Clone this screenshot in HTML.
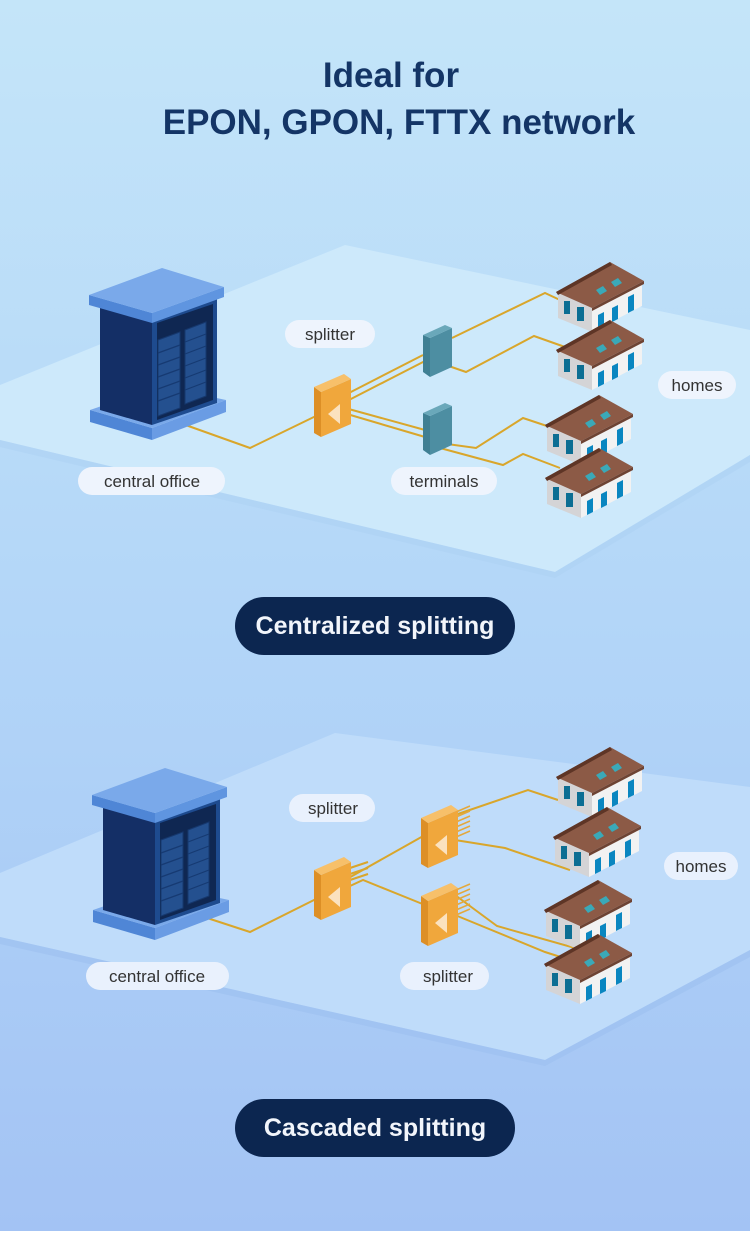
<!DOCTYPE html>
<html><head><meta charset="utf-8"><style>
html,body{margin:0;padding:0}
body{width:750px;height:1231px;overflow:hidden;font-family:"Liberation Sans",sans-serif}
</style></head><body>
<svg width="750" height="1231" viewBox="0 0 750 1231" xmlns="http://www.w3.org/2000/svg">
<defs>
<linearGradient id="bg" x1="0" y1="0" x2="0" y2="1">
<stop offset="0" stop-color="#c4e5f9"/><stop offset="0.5" stop-color="#b3d6f8"/><stop offset="1" stop-color="#a3c3f4"/>
</linearGradient>
<g id="house">
<polygon points="18,34 36,26 52,48 52,72 18,58" fill="#d4d4d6"/>
<polygon points="52,48 102,22 102,46 52,72" fill="#f2f2f2"/>
<polygon points="16,32 70,2 104,21 52,48" fill="#8c5a46"/>
<polygon points="16,32 70,2 72,5 18,35" fill="#5e3526"/>
<polygon points="52,48 104,21 104,24 52,51" fill="#6e4333"/>
<rect x="24" y="41" width="6" height="13" fill="#0c6e93"/>
<rect x="37" y="47" width="7" height="14" fill="#0c6e93"/>
<polygon points="58,55 64,52 64,66 58,69" fill="#0a86c0"/>
<polygon points="72,48 78,45 78,59 72,62" fill="#0a86c0"/>
<polygon points="88,37 94,34 94,50 88,53" fill="#0a86c0"/>
<polygon points="56,30 63,26 67,31 60,35" fill="#3aa9b8"/>
<polygon points="71,22 78,18 82,23 75,27" fill="#3aa9b8"/>
</g>
<g id="spl">
<polygon points="0,13 7,18 7,63 0,59" fill="#dd8f26"/>
<polygon points="7,18 37,5 37,50 7,63" fill="#f0a73c"/>
<polygon points="0,13 30,0 37,5 7,18" fill="#f7c06a"/>
<polygon points="14,40 26,30 26,50" fill="#fbe2bf"/>
</g>
<g id="term">
<polygon points="0,10 7,13 7,52 0,47" fill="#3f7f93"/>
<polygon points="7,13 29,3 29,42 7,52" fill="#4d8ea2"/>
<polygon points="0,10 22,0 29,3 7,13" fill="#6aa8ba"/>
</g>
<g id="server">
<polygon points="10,150 72,168 72,180 10,162" fill="#4f86d6"/>
<polygon points="72,168 146,140 146,152 72,180" fill="#6a9ce4"/>
<polygon points="10,150 80,126 146,140 72,168" fill="#7aa9ea"/>
<polygon points="20,45 72,60 72,165 20,150" fill="#142f66"/>
<polygon points="72,60 137,38 137,143 72,165" fill="#1e4b8f"/>
<polygon points="77,63 133,44 133,140 77,160" fill="#0f2752"/>
<g fill="#24508f" stroke="#16386e" stroke-width="1">
<polygon points="78,80 100,72 100,148 78,156"/>
<polygon points="105,70 126,62 126,136 105,144"/>
</g>
<g stroke="#163a72" stroke-width="1.2">
<line x1="78" y1="93" x2="100" y2="85"/><line x1="78" y1="105" x2="100" y2="97"/><line x1="78" y1="117" x2="100" y2="109"/><line x1="78" y1="129" x2="100" y2="121"/><line x1="78" y1="141" x2="100" y2="133"/>
<line x1="105" y1="82" x2="126" y2="74"/><line x1="105" y1="94" x2="126" y2="86"/><line x1="105" y1="106" x2="126" y2="98"/><line x1="105" y1="118" x2="126" y2="110"/><line x1="105" y1="130" x2="126" y2="122"/>
</g>
<polygon points="9,35 72,53 72,63 9,45" fill="#4f86d6"/>
<polygon points="72,53 144,27 144,37 72,63" fill="#5f95e0"/>
<polygon points="9,35 82,8 144,27 72,53" fill="#7aa9ea"/>
</g>
</defs>
<rect width="750" height="1231" fill="url(#bg)"/>

<text x="391" y="87" text-anchor="middle" font-size="35" font-weight="bold" fill="#143566">Ideal for</text>
<text x="399" y="134" text-anchor="middle" font-size="35" font-weight="bold" fill="#143566">EPON, GPON, FTTX network</text>

<!-- plane 1 -->
<polygon points="345,245 750,330 750,455 555,572 0,440 0,385" fill="#cde9fb"/>
<polygon points="0,440 555,572 750,455 750,462 555,578 0,447" fill="#aed2f3" opacity="0.6"/>

<g fill="none" stroke="#d9a62b" stroke-width="2">
<polyline points="180,423 250,448 318,415"/>
<polyline points="345,395 423,355"/><polyline points="347,401 425,361"/>
<polyline points="345,408 425,430"/><polyline points="347,414 425,437"/>
<polyline points="452,338 545,293 560,300"/>
<polyline points="440,363 466,372 534,336 565,347"/>
<polyline points="440,443 476,448 523,418 547,426"/>
<polyline points="440,448 503,465 523,454 560,468"/>
</g>
<use href="#server" x="80" y="260"/>
<use href="#spl" x="314" y="374"/>
<use href="#term" x="423" y="325"/>
<use href="#term" x="423" y="403"/>
<use href="#house" x="540" y="260"/>
<use href="#house" x="540" y="318"/>
<use href="#house" x="529" y="393"/>
<use href="#house" x="529" y="446"/>

<g font-size="17" fill="#333">
<rect x="285" y="320" width="90" height="28" rx="14" fill="#eef4fd"/>
<text x="330" y="340" text-anchor="middle">splitter</text>
<rect x="658" y="371" width="78" height="28" rx="14" fill="#eef4fd"/>
<text x="697" y="391" text-anchor="middle">homes</text>
<rect x="78" y="467" width="147" height="28" rx="14" fill="#eef4fd"/>
<text x="152" y="487" text-anchor="middle">central office</text>
<rect x="391" y="467" width="106" height="28" rx="14" fill="#eef4fd"/>
<text x="444" y="487" text-anchor="middle">terminals</text>
</g>

<rect x="235" y="597" width="280" height="58" rx="29" fill="#0c2650"/>
<text x="375" y="634" text-anchor="middle" font-size="25" font-weight="bold" fill="#f2f5fb">Centralized splitting</text>

<!-- plane 2 -->
<polygon points="335,733 750,787 750,950 545,1060 0,937 0,873" fill="#bfdcfa"/>
<polygon points="0,937 545,1060 750,950 750,957 545,1066 0,944" fill="#9dc0f0" opacity="0.6"/>

<g fill="none" stroke="#d9a62b" stroke-width="2">
<polyline points="198,915 250,932 318,898"/>
<polyline points="345,880 425,835"/>
<polyline points="350,868 368,862"/><polyline points="350,874 368,868"/><polyline points="350,880 368,874"/>
<polyline points="350,886 363,880 425,905"/>
<polyline points="455,815 528,790 558,800"/>
<polyline points="455,840 505,848 570,870"/>
<polyline points="455,895 497,926 575,948"/>
<polyline points="455,915 545,952 570,960"/>
</g>
<g stroke="#e3a83c" stroke-width="1.5">
<line x1="456" y1="812" x2="470" y2="806"/><line x1="456" y1="817" x2="470" y2="811"/><line x1="456" y1="822" x2="470" y2="816"/><line x1="456" y1="827" x2="470" y2="821"/><line x1="456" y1="832" x2="470" y2="826"/><line x1="456" y1="837" x2="470" y2="831"/>
<line x1="456" y1="890" x2="470" y2="884"/><line x1="456" y1="895" x2="470" y2="889"/><line x1="456" y1="900" x2="470" y2="894"/><line x1="456" y1="905" x2="470" y2="899"/><line x1="456" y1="910" x2="470" y2="904"/><line x1="456" y1="915" x2="470" y2="909"/>
</g>
<use href="#server" x="83" y="760"/>
<use href="#spl" x="314" y="857"/>
<use href="#spl" x="421" y="805"/>
<use href="#spl" x="421" y="883"/>
<use href="#house" x="540" y="745"/>
<use href="#house" x="537" y="805"/>
<use href="#house" x="528" y="878"/>
<use href="#house" x="528" y="932"/>

<g font-size="17" fill="#333">
<rect x="289" y="794" width="86" height="28" rx="14" fill="#e9f1fd"/>
<text x="333" y="814" text-anchor="middle">splitter</text>
<rect x="664" y="852" width="74" height="28" rx="14" fill="#e9f1fd"/>
<text x="701" y="872" text-anchor="middle">homes</text>
<rect x="86" y="962" width="143" height="28" rx="14" fill="#e9f1fd"/>
<text x="157" y="982" text-anchor="middle">central office</text>
<rect x="400" y="962" width="89" height="28" rx="14" fill="#e9f1fd"/>
<text x="448" y="982" text-anchor="middle">splitter</text>
</g>

<rect x="235" y="1099" width="280" height="58" rx="29" fill="#0c2650"/>
<text x="375" y="1136" text-anchor="middle" font-size="25" font-weight="bold" fill="#f2f5fb">Cascaded splitting</text>
</svg>
</body></html>
